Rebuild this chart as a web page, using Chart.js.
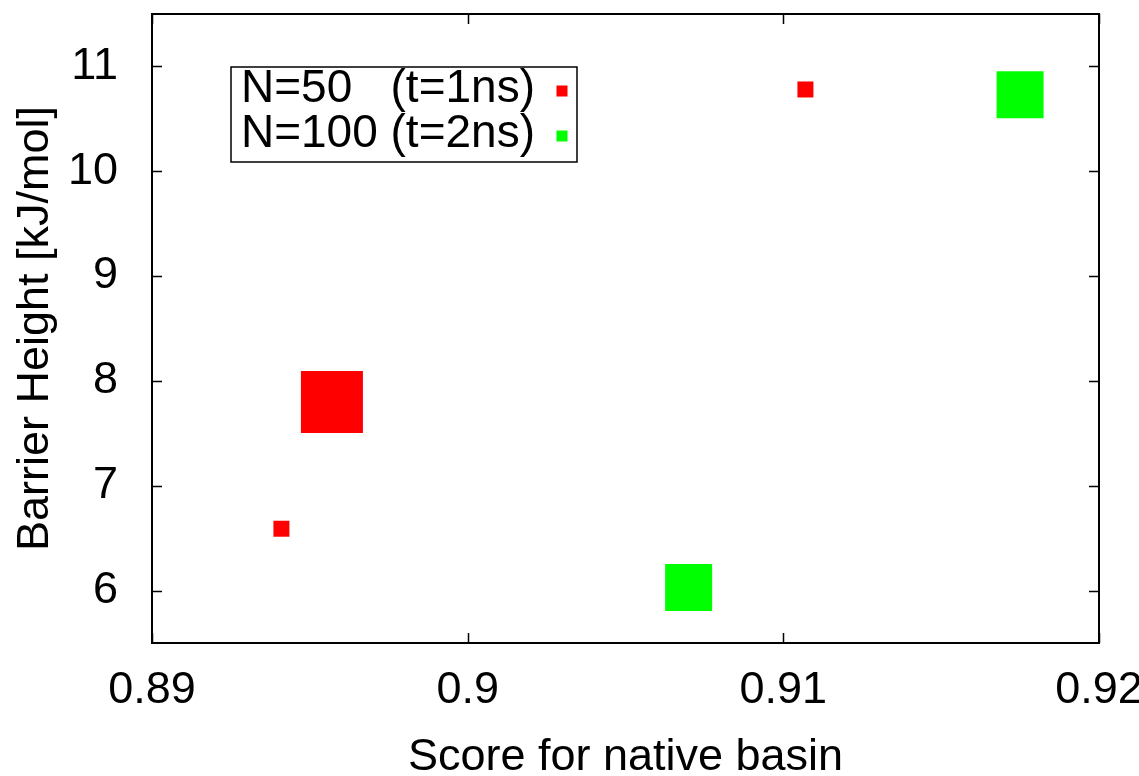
<!DOCTYPE html>
<html lang="en">
<head>
<meta charset="UTF-8" />
<title>Barrier height vs native basin score</title>
<script src="https://cdn.jsdelivr.net/npm/chart.js"></script>
<style>
  html, body { margin: 0; padding: 0; background: #fff; }
  #wrap { width: 1139px; height: 776px; position: relative; }
</style>
</head>
<body>
<div id="wrap"><canvas id="chart"></canvas></div>
<script>
  const seriesLabels = ['N=50   (t=1ns)', 'N=100 (t=2ns)'];
  const n50Score = [0.8941, 0.8957, 0.9107];
  const n50Barrier = [6.59, 7.80, 10.78];
  const n100Score = [0.9070, 0.9175];
  const n100Barrier = [6.03, 10.73];
  const xTicks = [0.89, 0.9, 0.91, 0.92];
  const yTicks = [6, 7, 8, 9, 10, 11];

  // marker side lengths in px (variable point size in the original)
  const n50Side = [16, 62, 16];
  const n100Side = [47, 47];

  const FONT = '"Liberation Sans", Arial, sans-serif';

  function pts(xs, ys) {
    return xs.map((x, i) => ({ x: x, y: ys[i] }));
  }

  // no extra room for overhanging tick labels, gnuplot lets them stick out
  function noPad(s) {
    s.paddingLeft = 0; s.paddingRight = 0;
    s.paddingTop = 0; s.paddingBottom = 0;
  }

  // gnuplot-like frame with inward ticks on all four sides
  const framePlugin = {
    id: 'frame',
    afterDraw(chart) {
      const { ctx, chartArea: a, scales } = chart;
      ctx.save();
      ctx.strokeStyle = '#000';
      ctx.lineWidth = 1.5;
      ctx.beginPath();
      xTicks.forEach(v => {
        const px = Math.round(scales.x.getPixelForValue(v)) + 0.5;
        ctx.moveTo(px, a.bottom); ctx.lineTo(px, a.bottom - 10);
        ctx.moveTo(px, a.top); ctx.lineTo(px, a.top + 10);
      });
      yTicks.forEach(v => {
        const py = Math.round(scales.y.getPixelForValue(v)) + 0.5;
        ctx.moveTo(a.left, py); ctx.lineTo(a.left + 10, py);
        ctx.moveTo(a.right, py); ctx.lineTo(a.right - 10, py);
      });
      ctx.stroke();
      ctx.lineWidth = 2;
      ctx.strokeRect(a.left, a.top, a.right - a.left, a.bottom - a.top);
      ctx.restore();
    }
  };

  const keyPlugin = {
    id: 'key',
    afterDatasetsDraw(chart) {
      const { ctx, chartArea: a } = chart;
      const left = a.left + 79, top = a.top + 53, w = 346, h = 95;
      ctx.save();
      ctx.fillStyle = '#fff';
      ctx.fillRect(left, top, w, h);
      ctx.strokeStyle = '#000';
      ctx.lineWidth = 1.5;
      ctx.strokeRect(left, top, w, h);
      ctx.font = '46px ' + FONT;
      ctx.textAlign = 'right';
      ctx.textBaseline = 'middle';
      chart.data.datasets.forEach((ds, i) => {
        const y = top + 24 + i * 45;
        ctx.fillStyle = '#000';
        ctx.fillText(ds.label, left + 304, y - 2);
        ctx.fillStyle = ds.backgroundColor;
        ctx.fillRect(left + 331 - 5.5, y - 5.5, 11, 11);
      });
      ctx.restore();
    }
  };

  new Chart(document.getElementById('chart'), {
    type: 'scatter',
    data: {
      datasets: [
        {
          label: seriesLabels[0],
          data: pts(n50Score, n50Barrier),
          backgroundColor: '#ff0000',
          borderWidth: 0,
          pointStyle: 'rect',
          pointRadius: n50Side.map(s => s / Math.SQRT2)
        },
        {
          label: seriesLabels[1],
          data: pts(n100Score, n100Barrier),
          backgroundColor: '#00ff00',
          borderWidth: 0,
          pointStyle: 'rect',
          pointRadius: n100Side.map(s => s / Math.SQRT2)
        }
      ]
    },
    options: {
      responsive: true,
      maintainAspectRatio: false,
      animation: false,
      layout: { autoPadding: false, padding: { top: 14, right: 40, left: 0, bottom: 0 } },
      plugins: {
        legend: { display: false },
        tooltip: { enabled: false }
      },
      scales: {
        x: {
          type: 'linear',
          min: 0.89,
          max: 0.92,
          grid: { display: false, drawTicks: false },
          border: { display: false },
          afterBuildTicks: s => { s.ticks = xTicks.map(v => ({ value: v })); },
          afterFit: s => { s.height = 133; noPad(s); },
          ticks: {
            padding: 21,
            color: '#000',
            maxRotation: 0,
            font: { family: FONT, size: 45 },
            callback: v => String(v)
          },
          title: {
            display: true,
            text: 'Score for native basin',
            color: '#000',
            padding: { top: 0, bottom: 0 },
            font: { family: FONT, size: 45, lineHeight: 0.82 }
          }
        },
        y: {
          type: 'linear',
          min: 5.5,
          max: 11.5,
          grid: { display: false, drawTicks: false },
          border: { display: false },
          afterBuildTicks: s => { s.ticks = yTicks.map(v => ({ value: v })); },
          afterFit: s => { s.width = 152; noPad(s); },
          ticks: {
            padding: 34,
            color: '#000',
            font: { family: FONT, size: 45 },
            callback: v => String(v)
          },
          title: {
            display: true,
            text: 'Barrier Height [kJ/mol]',
            color: '#000',
            padding: { top: 9, bottom: 0 },
            font: { family: FONT, size: 45 }
          }
        }
      }
    },
    plugins: [framePlugin, keyPlugin]
  });
</script>
</body>
</html>
